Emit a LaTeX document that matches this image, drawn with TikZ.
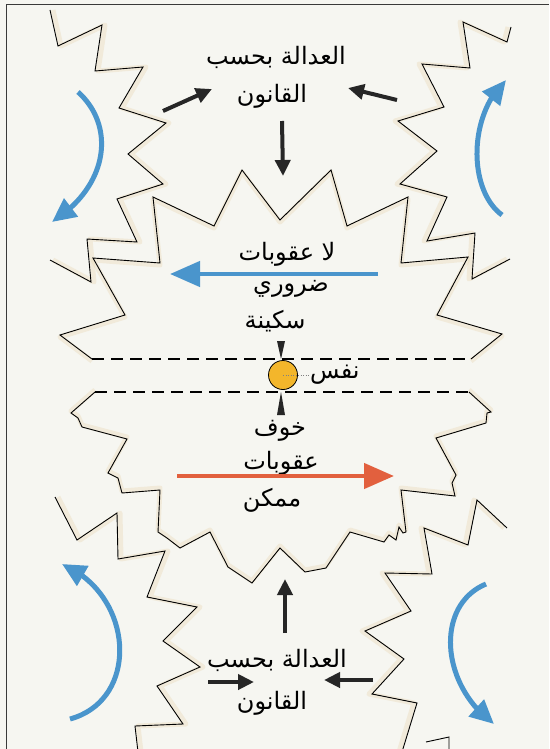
\documentclass[tikz,border=0pt]{standalone}
\usepackage{fontspec}
\newfontfamily\arabicfont[Script=Arabic]{DejaVu Sans}
\TeXXeTstate=1
\usepackage{xcolor}
\definecolor{papier}{HTML}{F6F6F1}
\definecolor{cadre}{HTML}{3A3A3A}
\definecolor{encre}{HTML}{262626}
\definecolor{bleuFleche}{HTML}{4A95CC}
\definecolor{rougeFleche}{HTML}{E2603E}
\definecolor{jauneNafs}{HTML}{F3B62B}
\definecolor{haloBeige}{HTML}{E8D6B0}
\usetikzlibrary{arrows.meta, bending}
%% Les contours en dents de scie, en pixels de l'image (y vers le bas).
\newcommand{\contourHG}{(50,10) -- (58,46) -- (102,25) -- (95,71) -- (143,67)
  -- (119,108) -- (166,123) -- (128,154) -- (163,184) -- (117,199) -- (137,242)
  -- (87,239) -- (91,282) -- (50,260)}
\newcommand{\contourHD}{(511,27) -- (507,42) -- (463,22) -- (470,68) -- (422,64)
  -- (444,107) -- (398,121) -- (437,151) -- (400,184) -- (447,197) -- (427,241)
  -- (475,233) -- (472,279) -- (510,259)}
\newcommand{\etoileHaut}{(92,359) -- (60,335) -- (125,315) -- (93,258) -- (160,263)
  -- (153,197) -- (214,226) -- (242,170) -- (280,220) -- (331,170) -- (347,226)
  -- (408,197) -- (401,263) -- (468,257) -- (437,315) -- (502,334) -- (471,359)}
\newcommand{\etoileBas}{(95,392) -- (71,413) -- (78,418) -- (82,427) -- (127,439)
  -- (108,473) -- (118,478) -- (122,493) -- (160,490) -- (158,532) -- (167,538)
  -- (180,548) -- (210,532) -- (228,567) -- (252,583) -- (280,548) -- (305,572)
  -- (326,568) -- (350,532) -- (384,542) -- (389,535) -- (396,540) -- (399,527)
  -- (403,533) -- (406,532) -- (401,490) -- (455,496) -- (452,483) -- (456,475)
  -- (436,438) -- (486,423) -- (487,413) -- (491,412) -- (469,392)}
\newcommand{\contourBG}{(55,497) -- (77,540) -- (117,513) -- (118,559) -- (165,551)
  -- (147,597) -- (197,607) -- (163,641) -- (200,667) -- (157,686) -- (183,724)
  -- (135,726) -- (138,752)}
\newcommand{\contourBD}{(507,528) -- (477,500) -- (468,545) -- (424,528) -- (432,574)
  -- (385,573) -- (411,611) -- (365,631) -- (404,659) -- (372,694) -- (417,703)
  -- (402,752)}
\tikzset{
  %% ── Traits ──────────────────────────────────────────────────────────
  trait/.style      = {draw=black, line width=0.9pt, line join=miter},
  halo/.style       = {draw=haloBeige, line width=5pt, opacity=0.35,
                       line join=round},
  pointille/.style  = {draw=black, line width=1.1pt,
                       dash pattern=on 12pt off 7pt},
  pointsGris/.style = {draw=gray, line width=0.6pt,
                       dash pattern=on 1pt off 1.5pt},
  %% ── Fleches ─────────────────────────────────────────────────────────
  fleche/.style     = {-{Triangle[length=16pt, width=15pt]}, draw=encre,
                       line width=4pt},
  flecheBleue/.style = {-{Triangle[length=30pt, width=25pt]}, draw=bleuFleche,
                       line width=4.5pt},
  flecheRouge/.style = {-{Triangle[length=30pt, width=25pt]}, draw=rougeFleche,
                       line width=4.5pt},
  flecheTour/.style = {-{Triangle[length=24pt, width=22pt]}, draw=bleuFleche,
                       line width=5pt},
  %% ── Textes ──────────────────────────────────────────────────────────
  mot/.style        = {font=\arabicfont\fontsize{24}{28}\selectfont,
                       text=black, inner sep=1pt},
}

\begin{document}
\begin{tikzpicture}[x=1pt, y=-1pt]

\useasboundingbox (0,0) rectangle (549,749);
\fill[papier] (0,0) rectangle (549,749);
\draw[cadre, line width=1pt] (6,749) -- (6,5) -- (549,5);

%% Les ombres beiges, puis les contours.
\draw[halo, xshift=3pt] \contourHG;
\draw[halo, xshift=-3pt] \contourHD;
\draw[halo, yshift=-2pt] \etoileHaut;
\draw[halo, yshift=2pt] \etoileBas;
\draw[halo, xshift=3pt] \contourBG;
\draw[halo, xshift=-3pt] \contourBD;
\draw[trait] \contourHG;
\draw[trait] \contourHD;
\draw[trait] \etoileHaut;
\draw[trait] \etoileBas;
\draw[trait] \contourBG;
\draw[trait] \contourBD;
\draw[trait] (426,742) -- (449,737) -- (449,752);

%% La bande de l'ame, entre les deux pointilles.
\draw[pointille] (92,359) -- (471,359);
\draw[pointille] (95,392) -- (469,392);

%% Les textes.
\node[mot] (justiceHaut) at (276,57)  {\beginR العدالة بحسب\endR};
\node[mot] (qanunHaut)   at (272,96)  {\beginR القانون\endR};
\node[mot] (laUqubat)    at (287,254) {\beginR لا عقوبات\endR};
\node[mot] (daruri)      at (291,289) {\beginR ضروري\endR};
\node[mot] (sakina)      at (275,321) {\beginR سكينة\endR};
\node[mot, anchor=west] (nafs) at (309,375) {\beginR نفس\endR};
\node[mot] (khawf)       at (280,431) {\beginR خوف\endR};
\node[mot] (uqubatBas)   at (281,463) {\beginR عقوبات\endR};
\node[mot] (mumkin)      at (272,500) {\beginR ممكن\endR};
\node[mot] (justiceBas)  at (277,660) {\beginR العدالة بحسب\endR};
\node[mot] (qanunBas)    at (272,703) {\beginR القانون\endR};

%% Le point de l'ame et ses deux pointes.
\node[circle, fill=jauneNafs, draw=black, line width=0.8pt, inner sep=0pt,
      minimum size=29pt] (nafsPoint) at (283,375) {};
\draw[pointsGris] (nafsPoint.center) -- (nafs.west);
\fill[encre] (277,341) -- (285,341) -- (281,359) -- cycle;
\fill[encre] (281,392) -- (277,415) -- (285,415) -- cycle;

%% Les extremites des fleches.
\foreach \nom/\x/\y in {noirA/163/111, noirA'/212/89, noirB/397/100, noirB'/348/88,
                        noirC/282/121, noirC'/283/176, noirD/285/633, noirD'/285/579,
                        noirE/208/682, noirE'/254/682, noirF/373/680, noirF'/324/680,
                        bleuDe/378/274, bleuVers/170/274,
                        rougeDe/177/476, rougeVers/394/476}
  \coordinate (\nom) at (\x,\y);

%% Les fleches noires vers la justice selon la loi.
\foreach \de in {noirA, noirB, noirC, noirD, noirE, noirF}
  \draw[fleche] (\de) -- (\de');

\draw[flecheBleue] (bleuDe) -- (bleuVers);
\draw[flecheRouge] (rougeDe) -- (rougeVers);

%% Les quatre fleches tournantes.
\coordinate (tourHGde) at (78,92);    \coordinate (tourHGvers) at (52,222);
\coordinate (tourHDde) at (502,215);  \coordinate (tourHDvers) at (506,80);
\coordinate (tourBGde) at (70,719);   \coordinate (tourBGvers) at (62,564);
\coordinate (tourBDde) at (486,584);  \coordinate (tourBDvers) at (494,724);
\draw[flecheTour] (tourHGde) .. controls (115,125) and (110,185) .. (tourHGvers);
\draw[flecheTour] (tourHDde) .. controls (468,190) and (468,115) .. (tourHDvers);
\draw[flecheTour] (tourBGde) .. controls (140,700) and (135,595) .. (tourBGvers);
\draw[flecheTour] (tourBDde) .. controls (435,605) and (440,685) .. (tourBDvers);

\end{tikzpicture}
\end{document}
